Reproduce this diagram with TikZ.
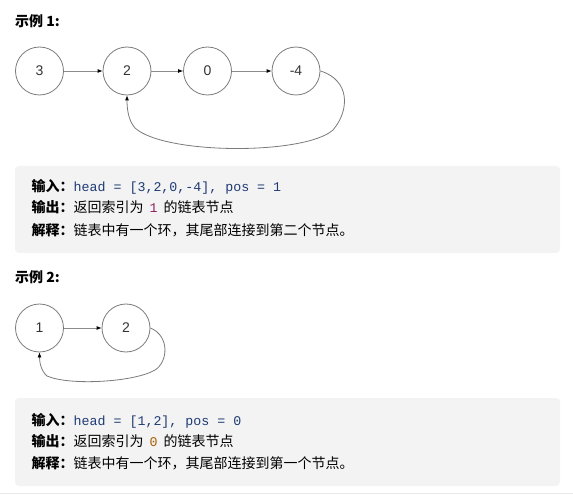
\documentclass[tikz,border=0pt]{standalone}
\usepackage{fontspec}
\usepackage{xcolor}
\setmainfont{Liberation Sans}
\newfontfamily\cjk{Noto Sans CJK SC}
\newfontfamily\codefont{Liberation Mono}
\usetikzlibrary{arrows.meta}

\definecolor{boxgray}{HTML}{F3F3F3}
\definecolor{rulegray}{HTML}{E8E8E8}
\definecolor{nodeline}{HTML}{7A7A7A}
\definecolor{arrowgray}{HTML}{8C8C8C}
\definecolor{numgray}{HTML}{333333}
\definecolor{codeblue}{HTML}{1F3B73}
\definecolor{numpurple}{HTML}{8A2060}
\definecolor{numorange}{HTML}{A85D00}

\newcommand{\codetxt}[2][codeblue]{{\codefont\fontsize{13.3}{16}\selectfont\color{#1}#2}}

\tikzset{
  listnode/.style={circle, draw=nodeline, line width=0.8pt, minimum size=48pt, inner sep=0pt, text=numgray, font=\fontsize{14}{16}\selectfont},
  nextptr/.style={draw=arrowgray, line width=0.8pt, -{Latex[length=5pt,width=4pt,color=black]}},
  loopptr/.style={nextptr, draw=nodeline},
  exbox/.style={fill=boxgray, rounded corners=4pt},
  titletext/.style={anchor=base west, inner sep=0pt, font=\cjk\bfseries\fontsize{14}{16}\selectfont},
  linetext/.style={anchor=base west, inner sep=0pt, font=\cjk\fontsize{14}{16}\selectfont},
}

\begin{document}
\begin{tikzpicture}[x=1pt,y=1pt,yscale=-1,xscale=1]
        \useasboundingbox (0,0) rectangle (573,497);

        % Text Node
        \node [titletext] (title1) at (15,27) {示例 1:};

        %Shape: Circle
        \node [listnode] (n3) at (39.5,71) {3};
        \node [listnode] (n2) at (127,71) {2};
        \node [listnode] (n0) at (207.5,71) {0};
        \node [listnode] (nm4) at (296,71) {-4};

        %Straight Lines
        \draw [nextptr] (n3) -- (n2);
        \draw [nextptr] (n2) -- (n0);
        \draw [nextptr] (n0) -- (nm4);
        %Curve Lines
        \draw [loopptr] (nm4.east) .. controls (350,80) and (350,110) .. (333,130) .. controls (305,155) and (165,155) .. (135,128) .. controls (128,120) and (127,108) .. (n2.south);

        %Shape: Rectangle
        \fill [exbox] (15,166) rectangle (560,253);

        % Text Node
        \node [linetext] (in1) at (31.5,192) {\textbf{输入：}\codetxt{head = [3,2,0,-4], pos = 1}};
        % Text Node
        \node [linetext] (out1) at (31.5,213) {\textbf{输出：}返回索引为\hspace{6pt}\codetxt[numpurple]{1}\hspace{6pt}的链表节点};
        % Text Node
        \node [linetext] (why1) at (31.5,236) {\textbf{解释：}链表中有一个环，其尾部连接到第二个节点。};

        % Text Node
        \node [titletext] (title2) at (15,283) {示例 2:};

        %Shape: Circle
        \node [listnode] (m1) at (39.5,328) {1};
        \node [listnode] (m2) at (126,328) {2};

        %Straight Lines
        \draw [nextptr] (m1) -- (m2);
        %Curve Lines
        \draw [loopptr] (m2.east) .. controls (170,336) and (168,362) .. (155,370) .. controls (135,382) and (70,386) .. (47,376) .. controls (41,371) and (39.5,362) .. (m1.south);

        %Shape: Rectangle
        \fill [exbox] (15,398) rectangle (560,486);

        % Text Node
        \node [linetext] (in2) at (31.5,425) {\textbf{输入：}\codetxt{head = [1,2], pos = 0}};
        % Text Node
        \node [linetext] (out2) at (31.5,446) {\textbf{输出：}返回索引为\hspace{6pt}\codetxt[numorange]{0}\hspace{6pt}的链表节点};
        % Text Node
        \node [linetext] (why2) at (31.5,468) {\textbf{解释：}链表中有一个环，其尾部连接到第一个节点。};

        %Straight Lines
        \draw [rulegray, line width=1pt] (0,493) -- (573,493);
\end{tikzpicture}
\end{document}
